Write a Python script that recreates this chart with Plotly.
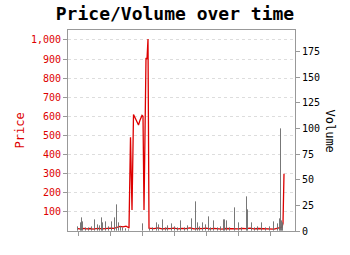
import plotly.graph_objects as go

# Price series (day index, price)
price_days = [0, 3, 6, 9, 12, 15, 18, 21, 24, 27, 30, 33, 36, 39, 42, 45, 48, 50, 51,
              52.5, 54, 55.5, 57, 59, 60.5, 62, 64, 65, 66, 68, 69, 70, 71,
              73, 76, 80, 84, 88, 92, 96, 100, 104, 108, 112, 116, 120, 124, 128,
              132, 136, 140, 144, 148, 152, 156, 160, 164, 168, 172, 176, 180, 184,
              188, 192, 196, 199, 202, 204, 205, 206]
price_vals = [12, 10, 14, 11, 13, 10, 12, 14, 11, 13, 12, 15, 14, 20, 24, 22, 25, 20, 15,
              490, 110, 610, 595, 575, 555, 580, 605, 600, 110, 905, 900, 1005, 15,
              14, 12, 16, 11, 13, 12, 15, 11, 14, 12, 16, 11, 13, 12, 15,
              11, 14, 12, 10, 13, 12, 14, 11, 13, 12, 15, 11, 13, 12,
              14, 11, 10, 14, 18, 20, 40, 300]

# Volume series (day index, volume)
vol_days = [0, 3, 4, 5, 8, 11, 14, 17, 20, 22, 24, 25, 28, 31, 34, 37, 39, 41, 43, 45, 48, 51,
            65, 72, 75, 79, 81, 85, 88, 90, 94, 97, 100, 103, 107, 110, 114, 118, 120, 122,
            125, 128, 131, 133, 136, 140, 143, 146, 147, 149, 152, 157, 161, 164, 169, 170,
            174, 177, 180, 184, 188, 192, 196, 200, 202, 203, 204, 205]
vol_vals = [4, 8, 13, 9, 3, 3, 4, 11, 6, 5, 13, 8, 9, 4, 9, 13, 25, 8, 4, 3, 2, 1,
            7, 2, 3, 8, 6, 11, 3, 5, 7, 4, 3, 10, 3, 5, 12, 28, 8, 4,
            8, 6, 14, 3, 10, 3, 4, 11, 11, 10, 3, 22, 8, 3, 33, 20,
            8, 3, 4, 8, 3, 4, 9, 7, 12, 99, 10, 8]

price_ticks = [100, 200, 300, 400, 500, 600, 700, 800, 900, 1000]
vol_ticks = [0, 25, 50, 75, 100, 125, 150, 175]
x_ticks = [0, 32, 64, 96, 128, 160, 192]

FONT = "DejaVu Sans Mono"
RED = "#dd0000"
AXIS = "#999999"
GRAY = "rgba(110,110,110,0.75)"

fig = go.Figure()
fig.add_trace(go.Bar(x=vol_days, y=vol_vals, yaxis="y2", width=0.5,
                     marker=dict(color=GRAY, line=dict(width=1, color=GRAY)),
                     showlegend=False))
fig.add_trace(go.Scatter(x=price_days, y=price_vals, mode="lines",
                         line=dict(color=RED, width=1.3), showlegend=False))

fig.update_layout(
    width=350, height=255,
    margin=dict(l=68, r=55, t=30, b=24),
    paper_bgcolor="white", plot_bgcolor="white",
    font=dict(family=FONT, size=10, color="#000"),
    title=dict(text="<b>Price/Volume over time</b>", x=0.5, xanchor="center",
               y=0.945, yanchor="middle", font=dict(family=FONT, size=18, color="#000")),
    bargap=0,
    xaxis=dict(range=[-10, 217], tickvals=x_ticks, ticktext=[""] * len(x_ticks),
               ticks="outside", ticklen=4, tickcolor=AXIS, showgrid=False,
               showline=True, linecolor=AXIS, mirror=True, zeroline=False),
    yaxis=dict(range=[0, 1052], tickvals=price_ticks, tickformat=",d",
               ticks="outside", ticklen=4, tickcolor=AXIS,
               tickfont=dict(color=RED, size=10, family=FONT),
               showgrid=True, gridcolor="#dddddd", griddash="dot",
               showline=True, linecolor=AXIS, zeroline=False),
    yaxis2=dict(range=[0, 196], tickvals=vol_ticks, overlaying="y", side="right",
                ticks="outside", ticklen=4, tickcolor=AXIS,
                tickfont=dict(color="#000", size=10, family=FONT),
                showgrid=False, showline=True, linecolor=AXIS, zeroline=False),
    annotations=[
        dict(text="Price", x=0, y=0.5, xref="paper", yref="paper", xanchor="center",
             yanchor="middle", textangle=-90, showarrow=False, xshift=-49,
             font=dict(family=FONT, size=12, color=RED)),
        dict(text="Volume", x=1, y=0.5, xref="paper", yref="paper", xanchor="center",
             yanchor="middle", textangle=90, showarrow=False, xshift=35,
             font=dict(family=FONT, size=12, color="#000")),
    ],
)

fig.write_html("out.html")
